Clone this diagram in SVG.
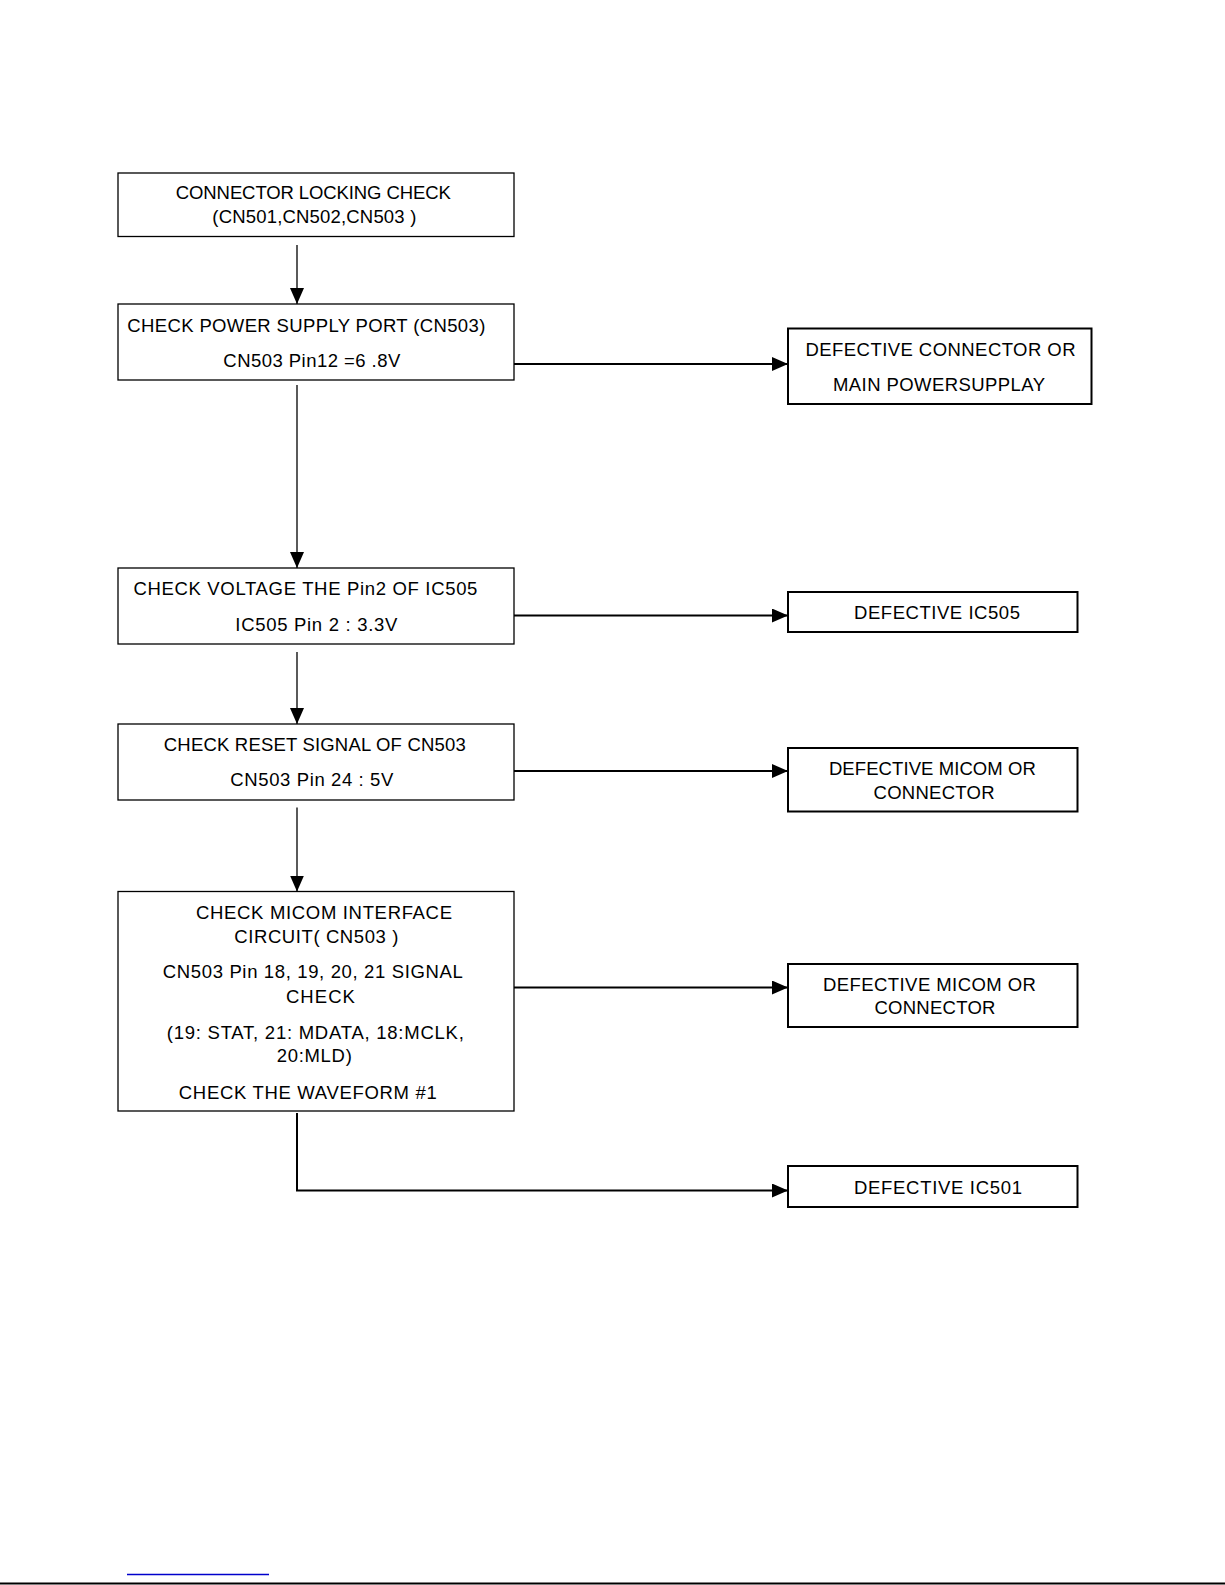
<svg xmlns="http://www.w3.org/2000/svg" width="1225" height="1585" viewBox="0 0 1225 1585">
<style>
.box{fill:#fff;stroke:#000;stroke-width:1.3}
.rbox{fill:#fff;stroke:#000;stroke-width:2}
text{font-family:"Liberation Sans",Arial,sans-serif;font-size:18.5px;fill:#000}
.c{text-anchor:middle}
.v{stroke:#000;stroke-width:1.3;fill:none}
.h{stroke:#000;stroke-width:2;fill:none}
</style>
<defs>
<marker id="ah" viewBox="0 0 16 14" refX="16" refY="7" markerWidth="16" markerHeight="14" markerUnits="userSpaceOnUse" orient="auto">
<path d="M0,0 L16,7 L0,14 Z" fill="#000"/>
</marker>
</defs>
<rect width="1225" height="1585" fill="#fff"/>
<g id="connectors">
<line class="v" x1="297" y1="245" x2="297" y2="304" marker-end="url(#ah)"/>
<line class="h" x1="514" y1="364" x2="788" y2="364" marker-end="url(#ah)"/>
<line class="v" x1="297" y1="385" x2="297" y2="568" marker-end="url(#ah)"/>
<line class="h" x1="514" y1="615.5" x2="788" y2="615.5" marker-end="url(#ah)"/>
<line class="v" x1="297" y1="652" x2="297" y2="724" marker-end="url(#ah)"/>
<line class="h" x1="514" y1="771" x2="788" y2="771" marker-end="url(#ah)"/>
<line class="v" x1="297" y1="807.5" x2="297" y2="891.5" marker-end="url(#ah)"/>
<line class="h" x1="514" y1="987.5" x2="788" y2="987.5" marker-end="url(#ah)"/>
<path class="h" d="M297,1113 L297,1190.5 L788,1190.5" marker-end="url(#ah)"/>
</g>
<g id="n1">
<rect class="box" x="118" y="173" width="396" height="63.5"/>
<text class="c" x="313.3" y="199" textLength="275" lengthAdjust="spacing">CONNECTOR LOCKING CHECK</text>
<text class="c" x="314.3" y="223.4" textLength="204" lengthAdjust="spacing">(CN501,CN502,CN503 )</text>
</g>
<g id="n2">
<rect class="box" x="118" y="304" width="396" height="76"/>
<text x="127.3" y="331.5" textLength="358" lengthAdjust="spacing">CHECK POWER SUPPLY PORT (CN503)</text>
<text class="c" x="311.8" y="367" textLength="177" lengthAdjust="spacing">CN503 Pin12 =6 .8V</text>
</g>
<g id="n3">
<rect class="rbox" x="788" y="328.5" width="303.5" height="75.5"/>
<text class="c" x="940.5" y="355.8" textLength="270" lengthAdjust="spacing">DEFECTIVE CONNECTOR OR</text>
<text class="c" x="939" y="391" textLength="212" lengthAdjust="spacing">MAIN POWERSUPPLAY</text>
</g>
<g id="n4">
<rect class="box" x="118" y="568" width="396" height="76"/>
<text x="133.4" y="595.3" textLength="344" lengthAdjust="spacing">CHECK VOLTAGE THE Pin2 OF IC505</text>
<text class="c" x="316.3" y="630.7" textLength="162" lengthAdjust="spacing">IC505 Pin 2 :  3.3V</text>
</g>
<g id="n5">
<rect class="rbox" x="788" y="592" width="289.5" height="40"/>
<text class="c" x="937" y="618.5" textLength="166" lengthAdjust="spacing">DEFECTIVE IC505</text>
</g>
<g id="n6">
<rect class="box" x="118" y="724" width="396" height="76"/>
<text class="c" x="314.8" y="751" textLength="302" lengthAdjust="spacing">CHECK RESET SIGNAL OF CN503</text>
<text class="c" x="311.8" y="786.3" textLength="163" lengthAdjust="spacing">CN503 Pin 24 :  5V</text>
</g>
<g id="n7">
<rect class="rbox" x="788" y="748" width="289.5" height="63.5"/>
<text class="c" x="932.4" y="775" textLength="207" lengthAdjust="spacing">DEFECTIVE MICOM OR</text>
<text class="c" x="934" y="798.5" textLength="121" lengthAdjust="spacing">CONNECTOR</text>
</g>
<g id="n8">
<rect class="box" x="118" y="891.5" width="396" height="219.5"/>
<text class="c" x="324" y="918.7" textLength="256" lengthAdjust="spacing">CHECK MICOM INTERFACE</text>
<text class="c" x="316.3" y="943" textLength="164" lengthAdjust="spacing">CIRCUIT( CN503 )</text>
<text class="c" x="312.8" y="978.4" textLength="300" lengthAdjust="spacing">CN503 Pin 18, 19, 20, 21 SIGNAL</text>
<text class="c" x="320.4" y="1002.6" textLength="69" lengthAdjust="spacing">CHECK</text>
<text class="c" x="315.3" y="1039" textLength="297" lengthAdjust="spacing">(19: STAT, 21: MDATA, 18:MCLK,</text>
<text class="c" x="314.3" y="1062" textLength="75" lengthAdjust="spacing">20:MLD)</text>
<text class="c" x="307.8" y="1098.6" textLength="258" lengthAdjust="spacing">CHECK THE WAVEFORM #1</text>
</g>
<g id="n9">
<rect class="rbox" x="788" y="964" width="289.5" height="63"/>
<text class="c" x="929.4" y="990.5" textLength="213" lengthAdjust="spacing">DEFECTIVE MICOM OR</text>
<text class="c" x="934.9" y="1013.7" textLength="121" lengthAdjust="spacing">CONNECTOR</text>
</g>
<g id="n10">
<rect class="rbox" x="788" y="1166" width="289.5" height="41"/>
<text class="c" x="938" y="1193.6" textLength="168" lengthAdjust="spacing">DEFECTIVE IC501</text>
</g>
<line x1="127" y1="1574.5" x2="269" y2="1574.5" stroke="#0000cc" stroke-width="1.5"/>
<line x1="0" y1="1583.5" x2="1225" y2="1583.5" stroke="#000" stroke-width="2"/>
</svg>
